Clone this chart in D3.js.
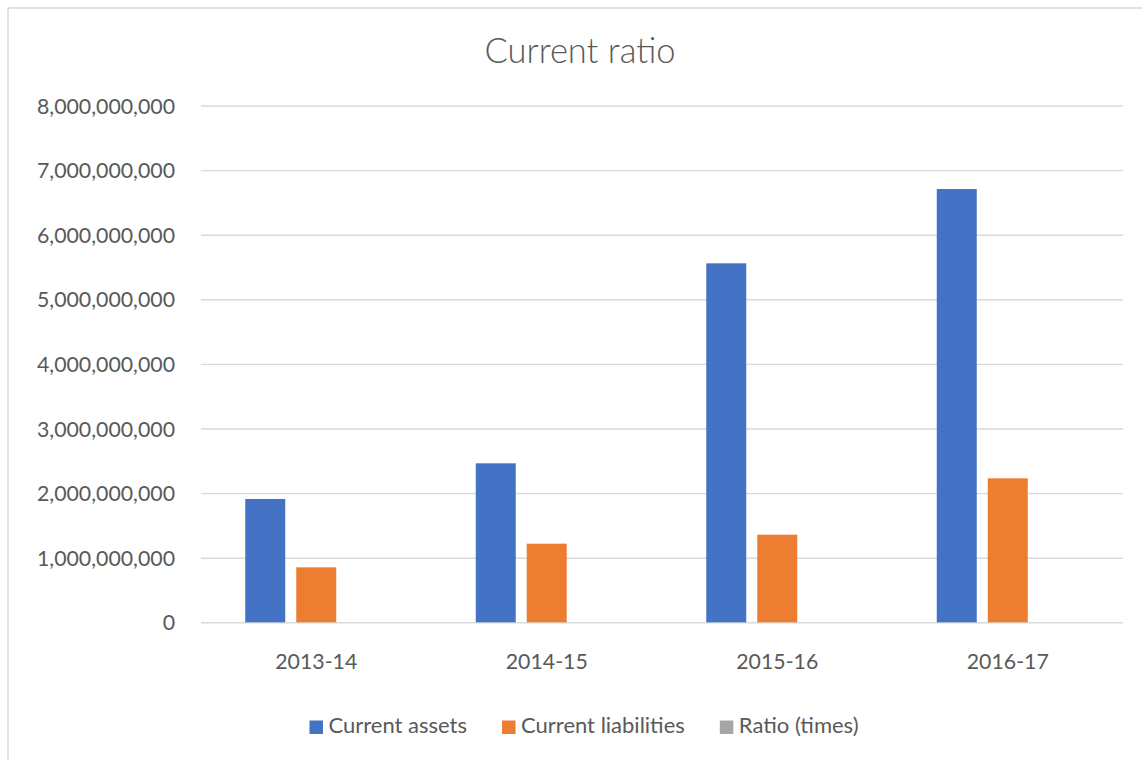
<!DOCTYPE html>
<html>
<head>
<meta charset="utf-8">
<script src="https://cdn.jsdelivr.net/npm/d3@7"></script>
<style>
  html, body { margin: 0; padding: 0; background: #fff; }
  svg { display: block; font-family: Lato, "Open Sans", sans-serif; }
</style>
</head>
<body>
<svg id="chart" width="1142" height="760"></svg>
<script>
// Financial years on the category axis
const categories = ["2013-14", "2014-15", "2015-16", "2016-17"];

// Series names
const seriesNames = ["Current assets", "Current liabilities", "Ratio (times)"];

// Series values
const currentAssets      = [1909000000, 2461000000, 5557000000, 6707000000];
const currentLiabilities = [851000000, 1217000000, 1356000000, 2229000000];
const ratioTimes         = [2.24, 2.02, 4.10, 3.01];

// Value-axis ticks
const yTicks = [0, 1000000000, 2000000000, 3000000000, 4000000000,
                5000000000, 6000000000, 7000000000, 8000000000];

const colors = ["#4472C4", "#ED7D31", "#A5A5A5"];
const textColor = "#595959";
const gridColor = "#D9D9D9";

const seriesValues = [currentAssets, currentLiabilities, ratioTimes];
const rows = categories.map((c, i) => ({
  category: c,
  values: seriesNames.map((s, j) => ({ series: s, value: seriesValues[j][i], idx: j }))
}));

const svg = d3.select("#chart");

// Chart frame
svg.append("rect")
  .attr("x", 8).attr("y", 8)
  .attr("width", 1160).attr("height", 780)
  .attr("fill", "#fff")
  .attr("stroke", gridColor)
  .attr("stroke-width", 1.5);

const plot = { left: 201, right: 1123, top: 105.5, bottom: 622.3 };

const x0 = d3.scaleBand()
  .domain(categories)
  .range([plot.left, plot.right])
  .paddingInner(0.384)
  .paddingOuter(0.192);

const x1 = d3.scaleBand()
  .domain(seriesNames)
  .range([0, x0.bandwidth()])
  .paddingInner(0.216)
  .paddingOuter(0);

const y = d3.scaleLinear()
  .domain([0, 8000000000])
  .range([plot.bottom, plot.top]);

// Gridlines and value labels
const yAxis = d3.axisLeft(y)
  .tickValues(yTicks)
  .tickFormat(d3.format(","))
  .tickSize(-(plot.right - plot.left))
  .tickPadding(26);

const gy = svg.append("g")
  .attr("transform", `translate(${plot.left},0)`)
  .call(yAxis);
gy.select(".domain").remove();
gy.selectAll(".tick line")
  .attr("stroke", gridColor)
  .attr("stroke-width", 1.4);
gy.selectAll(".tick text")
  .attr("fill", textColor)
  .attr("font-size", 21.3)
  .attr("font-family", "Lato, sans-serif")
  .attr("dy", "0.36em");

// Bars
const groups = svg.append("g")
  .selectAll("g")
  .data(rows)
  .join("g")
  .attr("transform", d => `translate(${x0(d.category)},0)`);

groups.selectAll("rect")
  .data(d => d.values)
  .join("rect")
  .attr("x", d => x1(d.series))
  .attr("width", x1.bandwidth())
  .attr("y", d => y(d.value))
  .attr("height", d => y(0) - y(d.value))
  .attr("fill", d => colors[d.idx]);

// Category axis
const xAxis = d3.axisBottom(x0).tickSize(0).tickPadding(0);
const gx = svg.append("g")
  .attr("transform", `translate(0,${plot.bottom})`)
  .call(xAxis);
gx.select(".domain").remove();
gx.selectAll(".tick text")
  .attr("fill", textColor)
  .attr("font-size", 21.3)
  .attr("font-family", "Lato, sans-serif")
  .attr("y", 46.5)
  .attr("dy", 0);

// Title
svg.append("text")
  .attr("x", 580)
  .attr("y", 62.7)
  .attr("text-anchor", "middle")
  .attr("fill", textColor)
  .attr("font-size", 34.5)
  .attr("font-weight", 300)
  .text("Current ratio");

// Legend
const legend = svg.append("g");
const items = legend.selectAll("g")
  .data(seriesNames)
  .join("g");
items.append("rect")
  .attr("width", 13.5)
  .attr("height", 13.5)
  .attr("y", 720.5)
  .attr("fill", (d, i) => colors[i]);
items.append("text")
  .attr("x", 19)
  .attr("y", 733.3)
  .attr("fill", textColor)
  .attr("font-size", 22)
  .text(d => d);

let cursor = 0;
const gap = 35;
items.each(function () {
  const g = d3.select(this);
  const w = 19 + g.select("text").node().getComputedTextLength();
  g.attr("transform", `translate(${cursor},0)`);
  cursor += w + gap;
});
const legendWidth = cursor - gap;
legend.attr("transform", `translate(${584 - legendWidth / 2},0)`);
</script>
</body>
</html>
